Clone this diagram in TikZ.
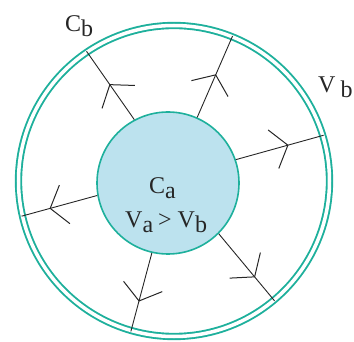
\documentclass[tikz,border=0pt]{standalone}
\usepackage{fontspec}
\setmainfont{Liberation Serif}
\usetikzlibrary{arrows.meta,decorations.markings}
\definecolor{ring}{RGB}{30,176,156}
\definecolor{core}{RGB}{188,226,238}
\newcommand{\lowsub}[1]{\raisebox{-5pt}{#1}}
\begin{document}
\begin{tikzpicture}[x=1pt,y=-1pt,
  ray/.style={draw=black!85, line width=0.9pt},
  midarrow/.style={postaction={decorate}, decoration={markings,
     mark=at position #1 with {\arrow{Straight Barb[length=15pt,width=40pt,line width=1pt]}}}},
  lbl/.style={font=\fontsize{24}{28}\selectfont, inner sep=0pt, text=black!85}
]
\useasboundingbox (0,0) rectangle (354,342);
\node[circle, draw=ring, double=white, double distance=3.5pt, line width=1.9pt,
      minimum size=311pt, inner sep=0pt] (B) at (174,181) {};
\node[circle, draw=ring, fill=core, line width=1.6pt,
      minimum size=142pt, inner sep=0pt] (A) at (168,183) {};
\draw[ray, midarrow=0.52] (A.118) -- (B.124);
\draw[ray, midarrow=0.53] (A.66) -- (B.68);
\draw[ray, midarrow=0.60] (A.19) -- (B.17);
\draw[ray, midarrow=0.63] (A.190) -- (B.193);
\draw[ray, midarrow=0.62] (A.257) -- (B.254);
\draw[ray, midarrow=0.65] (A.315) -- (B.310);
\node[lbl, anchor=base west] (Cb) at (65,32) {C\lowsub{b}};
\node[lbl, anchor=base west] (Vb) at (318,93) {V\hspace{5pt}\lowsub{b}};
\node[lbl, anchor=base west] (Ca) at (149,194) {C\lowsub{a}};
\node[lbl, anchor=base west] (VaVb) at (125,228) {V\lowsub{a}\hspace{5pt}>\hspace{6pt}V\lowsub{b}};
\end{tikzpicture}
\end{document}
